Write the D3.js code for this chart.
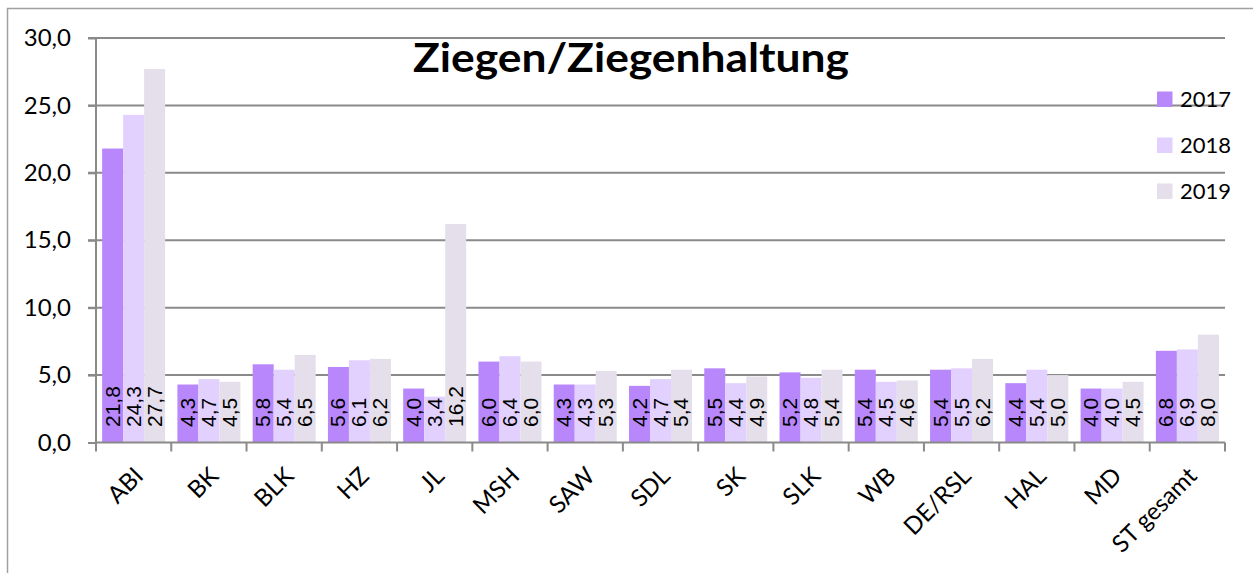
<!DOCTYPE html>
<html>
<head>
<meta charset="utf-8">
<script src="https://cdn.jsdelivr.net/npm/d3@7"></script>
<style>
  body { margin: 0; background: #fff; }
  svg { display: block; }
</style>
</head>
<body>
<svg id="chart" width="1253" height="573"></svg>
<script>
// data
const categories = ["ABI", "BK", "BLK", "HZ", "JL", "MSH", "SAW", "SDL", "SK", "SLK", "WB", "DE/RSL", "HAL", "MD", "ST gesamt"];
const years = ["2017", "2018", "2019"];
const values2017 = [21.8, 4.3, 5.8, 5.6, 4.0, 6.0, 4.3, 4.2, 5.5, 5.2, 5.4, 5.4, 4.4, 4.0, 6.8];
const values2018 = [24.3, 4.7, 5.4, 6.1, 3.4, 6.4, 4.3, 4.7, 4.4, 4.8, 4.5, 5.5, 5.4, 4.0, 6.9];
const values2019 = [27.7, 4.5, 6.5, 6.2, 16.2, 6.0, 5.3, 5.4, 4.9, 5.4, 4.6, 6.2, 5.0, 4.5, 8.0];
const yTicks = [0, 5, 10, 15, 20, 25, 30];
const colors = ["#b787fb", "#e2d1fe", "#e4dfea"];

const series = [values2017, values2018, values2019];

const svg = d3.select("#chart");
const plotL = 96, plotR = 1225, plotT = 38, plotB = 442.5;
const fmt = v => d3.format(".1f")(v).replace(".", ",");

// chart frame (only top and left edges show in the picture)
svg.append("path")
    .attr("d", "M7.5,573 L7.5,8.5 L1253,8.5")
    .attr("fill", "none")
    .attr("stroke", "#a0a0a0")
    .attr("stroke-width", 1.5);

const x0 = d3.scaleBand().domain(categories).range([plotL, plotR]).paddingInner(0.163).paddingOuter(0.0815);
const x1 = d3.scaleBand().domain(years).range([0, x0.bandwidth()]);
const y = d3.scaleLinear().domain([0, 30]).range([plotB, plotT]);

// gridlines
svg.append("g")
    .selectAll("line")
    .data(yTicks.filter(d => d > 0))
    .join("line")
    .attr("x1", plotL - 8)
    .attr("x2", plotR)
    .attr("y1", d => y(d))
    .attr("y2", d => y(d))
    .attr("stroke", "#8a8a8a")
    .attr("stroke-width", 2);

// bars
const groups = svg.append("g")
    .selectAll("g")
    .data(categories)
    .join("g")
    .attr("transform", d => `translate(${x0(d)},0)`);

const cells = (d, i) => years.map((yr, j) => ({ yr, v: series[j][i], j }));

groups.selectAll("rect")
    .data(cells)
    .join("rect")
    .attr("x", d => x1(d.yr))
    .attr("y", d => y(d.v))
    .attr("width", x1.bandwidth())
    .attr("height", d => y(0) - y(d.v))
    .attr("fill", d => colors[d.j]);

// value labels, rotated, at the bar base
groups.selectAll("text")
    .data(cells)
    .join("text")
    .attr("transform", d => `translate(${x1(d.yr) + x1.bandwidth() / 2 + 7},${y(0) - 15.5}) rotate(-90)`)
    .attr("font-family", "'Liberation Sans', Arial, sans-serif")
    .attr("font-size", 21)
    .attr("fill", "#000")
    .text(d => fmt(d.v));

// y axis
const yAxis = svg.append("g")
    .attr("transform", `translate(${plotL},0)`)
    .call(d3.axisLeft(y).tickValues(yTicks).tickSize(8).tickPadding(17).tickFormat(fmt));
yAxis.select(".domain").attr("stroke", "#8a8a8a").attr("stroke-width", 2).attr("d", `M0,${plotT}V${plotB}`);
yAxis.selectAll(".tick line").attr("stroke", "#8a8a8a").attr("stroke-width", 2);
yAxis.selectAll(".tick text")
    .attr("font-family", "Lato, 'Open Sans', sans-serif")
    .attr("font-size", 24)
    .attr("fill", "#000");

// x axis: ticks at band boundaries
const bounds = d3.range(categories.length + 1).map(i => plotL + i * x0.step());
svg.append("line")
    .attr("x1", plotL).attr("x2", plotR)
    .attr("y1", plotB).attr("y2", plotB)
    .attr("stroke", "#8a8a8a").attr("stroke-width", 2);
svg.append("g")
    .selectAll("line")
    .data(bounds)
    .join("line")
    .attr("x1", d => d).attr("x2", d => d)
    .attr("y1", plotB).attr("y2", plotB + 9)
    .attr("stroke", "#8a8a8a").attr("stroke-width", 2);

svg.append("g")
    .selectAll("text")
    .data(categories)
    .join("text")
    .attr("transform", d => `translate(${x0(d) + x0.bandwidth() / 2 + 11},${plotB + 35}) rotate(-45)`)
    .attr("text-anchor", "end")
    .attr("font-family", "Lato, 'Open Sans', sans-serif")
    .attr("font-size", 24)
    .attr("fill", "#000")
    .text(d => d);

// title
svg.append("text")
    .attr("x", 631)
    .attr("y", 72)
    .attr("text-anchor", "middle")
    .attr("font-family", "Lato, 'Open Sans', sans-serif")
    .attr("font-weight", "bold")
    .attr("font-size", 41)
    .attr("textLength", 436)
    .attr("lengthAdjust", "spacingAndGlyphs")
    .attr("fill", "#000")
    .text("Ziegen/Ziegenhaltung");

// legend
const legend = svg.append("g")
    .selectAll("g")
    .data(years)
    .join("g")
    .attr("transform", (d, i) => `translate(1157,${99 + i * 46})`);
legend.append("rect")
    .attr("x", 0).attr("y", -7.5)
    .attr("width", 15.5).attr("height", 15.5)
    .attr("fill", (d, i) => colors[i]);
legend.append("text")
    .attr("x", 23).attr("y", 0)
    .attr("dy", "0.36em")
    .attr("font-family", "Lato, 'Open Sans', sans-serif")
    .attr("font-size", 22)
    .attr("fill", "#000")
    .text(d => d);
</script>
</body>
</html>
